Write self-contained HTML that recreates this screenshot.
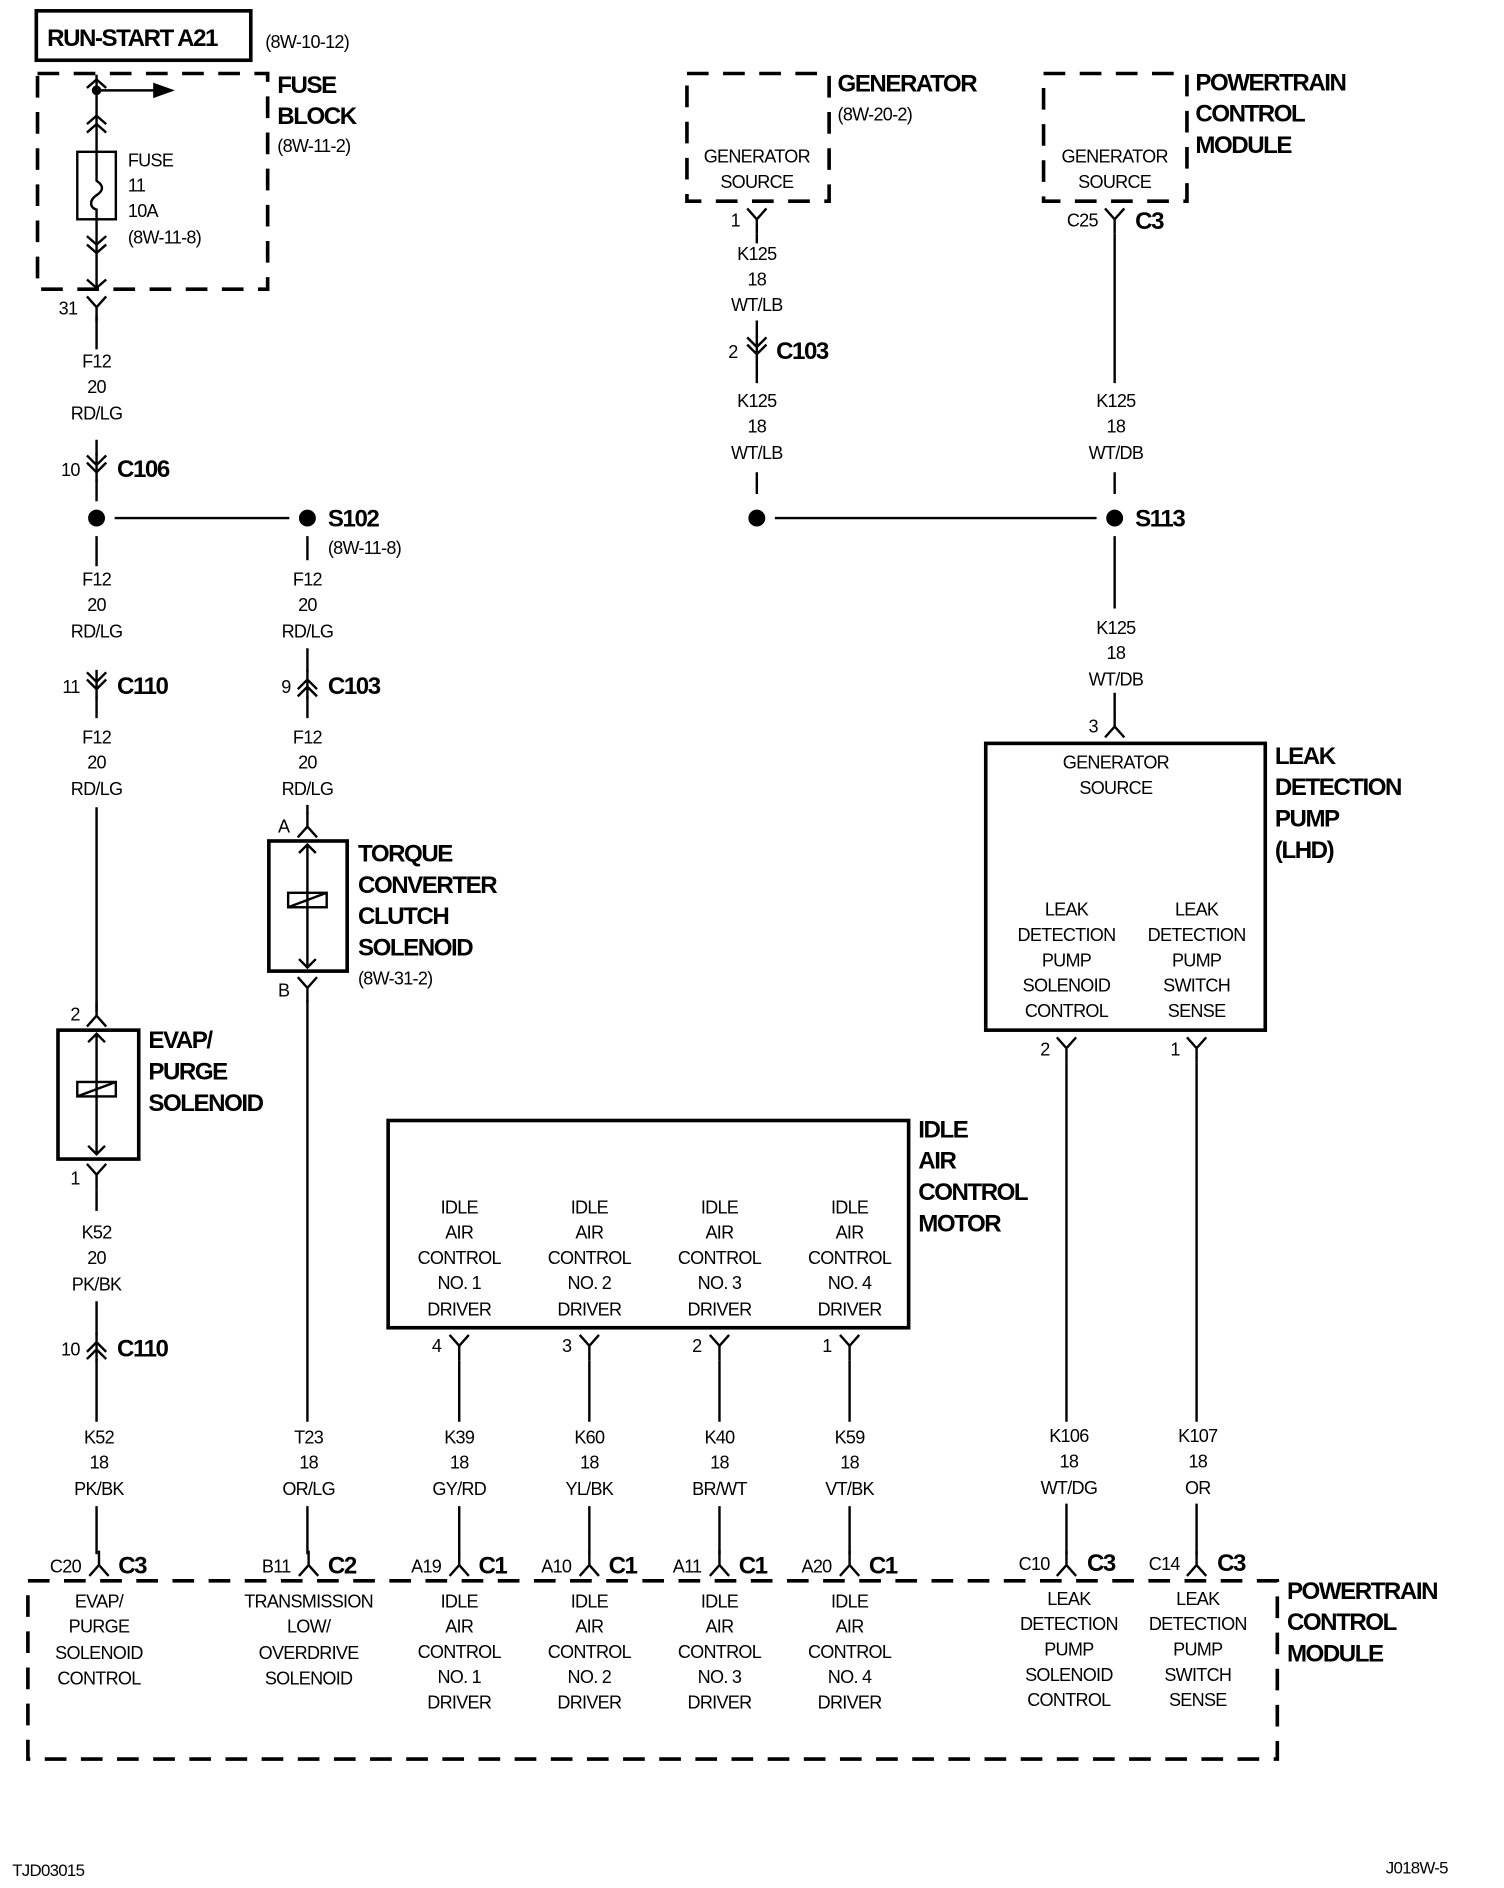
<!DOCTYPE html>
<html><head><meta charset="utf-8"><style>
html,body{margin:0;padding:0;background:#fff}
svg{display:block}
text{font-family:"Liberation Sans",sans-serif;font-size:15px;fill:#000;letter-spacing:-0.6px}
.c{text-anchor:middle}
.b{font-weight:bold;font-size:20px;letter-spacing:-1.2px}
.r{text-anchor:end}
</style></head><body>
<svg width="1504" height="1888" viewBox="0 0 1248 1567" xmlns="http://www.w3.org/2000/svg">
<defs>
<path id="fy" d="M-8,-9 L0,0 L8,-9 M0,0 V12" fill="none" stroke="#000" stroke-width="2"/>
<path id="mu" d="M-8,9 L0,0 L8,9 M0,0 V-12" fill="none" stroke="#000" stroke-width="2"/>
<path id="dd" d="M-8,-10 L0,-2 L8,-10 M-8,-4 L0,4 L8,-4 M0,-12 V12" fill="none" stroke="#000" stroke-width="2"/>
<path id="du" d="M-8,10 L0,2 L8,10 M-8,4 L0,-4 L8,4 M0,-12 V12" fill="none" stroke="#000" stroke-width="2"/>
</defs>
<g fill="none" stroke="#000" stroke-width="2">
<rect x="30" y="9" width="178" height="41" stroke-width="3"/>
<rect x="31" y="61" width="191" height="179" stroke-width="3" stroke-dasharray="18,12"/>
<rect x="570" y="61" width="118" height="106" stroke-width="3" stroke-dasharray="18,12"/>
<rect x="866" y="61" width="119" height="106" stroke-width="3" stroke-dasharray="18,12"/>
<rect x="23" y="1312" width="1037" height="148" stroke-width="3" stroke-dasharray="18,12"/>
<rect x="818" y="617" width="232" height="238" stroke-width="3"/>
<rect x="322" y="930" width="432" height="172" stroke-width="3"/>
<rect x="48" y="855" width="67" height="107" stroke-width="3"/>
<rect x="223" y="698" width="65" height="108" stroke-width="3"/>
<path d="M80,62 V126 M80,182 V240 M80,75 H130"/>
<path d="M128,70 L142,75 L128,80 Z" fill="#000"/>
<circle cx="80" cy="75" r="3" fill="#000"/>
<path d="M72,73 L80,66 L88,73 M72,103 L80,96 L88,103 M72,110 L80,103 L88,110 M72,196 L80,203 L88,196 M72,203 L80,210 L88,203 M72,232 L80,239 L88,232"/>
<rect x="64" y="126" width="32" height="56"/>
<path d="M80,126 V150 C86,154 86,158 80,162 C74,166 74,172 80,174 V182"/>
<use href="#fy" x="80" y="255"/>
<path d="M80,262 V290 M80,365 V378 M80,398 V416 M80,445 V470 M80,578 V596 M80,670 V840"/>
<use href="#dd" x="80" y="388"/>
<use href="#dd" x="80" y="568"/>
<circle cx="80" cy="430" r="6" fill="#000"/>
<path d="M95,430 H240"/>
<circle cx="255" cy="430" r="6" fill="#000"/>
<use href="#mu" x="80" y="843"/>
<path d="M80,858 V958 M73,865 L80,858 L87,865 M73,951 L80,958 L87,951"/>
<rect x="64" y="898" width="32" height="12"/>
<path d="M64,910 L96,898"/>
<use href="#fy" x="80" y="975"/>
<path d="M80,987 V1005 M80,1080 V1108 M80,1128 V1180 M80,1250 V1290"/>
<use href="#du" x="80" y="1118"/>
<path d="M255,445 V465 M255,538 V558 M255,578 V596 M255,668 V676 M255,830 V1180 M255,1250 V1290"/>
<use href="#du" x="255" y="568"/>
<use href="#mu" x="255" y="686"/>
<path d="M255,701 V803 M248,708 L255,701 L262,708 M248,796 L255,803 L262,796"/>
<rect x="239" y="741" width="32" height="12"/>
<path d="M239,753 L271,741"/>
<use href="#fy" x="255" y="820"/>
<use href="#fy" x="628" y="182"/>
<path d="M628,194 V202 M628,266 V280 M628,300 V318 M628,392 V410"/>
<use href="#dd" x="628" y="290"/>
<circle cx="628" cy="430" r="6" fill="#000"/>
<path d="M643,430 H910"/>
<circle cx="925" cy="430" r="6" fill="#000"/>
<use href="#fy" x="925" y="182"/>
<path d="M925,194 V318 M925,392 V410 M925,445 V505 M925,575 V592"/>
<use href="#mu" x="925" y="603"/>
<use href="#fy" x="885" y="870"/>
<use href="#fy" x="993" y="870"/>
<path d="M885,882 V1180 M993,882 V1180 M885,1248 V1290 M993,1248 V1290"/>
<use href="#fy" x="381" y="1117"/><use href="#fy" x="489" y="1117"/><use href="#fy" x="597" y="1117"/><use href="#fy" x="705" y="1117"/>
<path d="M381,1129 V1180 M489,1129 V1180 M597,1129 V1180 M705,1129 V1180 M381,1250 V1290 M489,1250 V1290 M597,1250 V1290 M705,1250 V1290"/>
<use href="#mu" x="82" y="1299"/><use href="#mu" x="256" y="1299"/><use href="#mu" x="381" y="1299"/><use href="#mu" x="489" y="1299"/>
<use href="#mu" x="597" y="1299"/><use href="#mu" x="705" y="1299"/><use href="#mu" x="885" y="1299"/><use href="#mu" x="993" y="1299"/>
</g>
<text x="39" y="38" class="b">RUN-START A21</text>
<text x="220" y="40">(8W-10-12)</text>
<text x="230" y="77" class="b">FUSE</text><text x="230" y="103" class="b">BLOCK</text><text x="230" y="126">(8W-11-2)</text>
<text x="106" y="138">FUSE</text><text x="106" y="159">11</text><text x="106" y="180">10A</text><text x="106" y="202">(8W-11-8)</text>
<text x="64" y="261" class="r">31</text>
<g>
<text x="80" y="305" class="c">F12</text><text x="80" y="326" class="c">20</text><text x="80" y="348" class="c">RD/LG</text>
<text x="80" y="486" class="c">F12</text><text x="80" y="507" class="c">20</text><text x="80" y="529" class="c">RD/LG</text>
<text x="80" y="617" class="c">F12</text><text x="80" y="638" class="c">20</text><text x="80" y="660" class="c">RD/LG</text>
<text x="255" y="486" class="c">F12</text><text x="255" y="507" class="c">20</text><text x="255" y="529" class="c">RD/LG</text>
<text x="255" y="617" class="c">F12</text><text x="255" y="638" class="c">20</text><text x="255" y="660" class="c">RD/LG</text>
<text x="80" y="1028" class="c">K52</text><text x="80" y="1049" class="c">20</text><text x="80" y="1071" class="c">PK/BK</text>
<text x="82" y="1198" class="c">K52</text><text x="82" y="1219" class="c">18</text><text x="82" y="1241" class="c">PK/BK</text>
<text x="256" y="1198" class="c">T23</text><text x="256" y="1219" class="c">18</text><text x="256" y="1241" class="c">OR/LG</text>
<text x="381" y="1198" class="c">K39</text><text x="381" y="1219" class="c">18</text><text x="381" y="1241" class="c">GY/RD</text>
<text x="489" y="1198" class="c">K60</text><text x="489" y="1219" class="c">18</text><text x="489" y="1241" class="c">YL/BK</text>
<text x="597" y="1198" class="c">K40</text><text x="597" y="1219" class="c">18</text><text x="597" y="1241" class="c">BR/WT</text>
<text x="705" y="1198" class="c">K59</text><text x="705" y="1219" class="c">18</text><text x="705" y="1241" class="c">VT/BK</text>
<text x="887" y="1197" class="c">K106</text><text x="887" y="1218" class="c">18</text><text x="887" y="1240" class="c">WT/DG</text>
<text x="994" y="1197" class="c">K107</text><text x="994" y="1218" class="c">18</text><text x="994" y="1240" class="c">OR</text>
<text x="628" y="216" class="c">K125</text><text x="628" y="237" class="c">18</text><text x="628" y="258" class="c">WT/LB</text>
<text x="628" y="338" class="c">K125</text><text x="628" y="359" class="c">18</text><text x="628" y="381" class="c">WT/LB</text>
<text x="926" y="338" class="c">K125</text><text x="926" y="359" class="c">18</text><text x="926" y="381" class="c">WT/DB</text>
<text x="926" y="526" class="c">K125</text><text x="926" y="547" class="c">18</text><text x="926" y="569" class="c">WT/DB</text>
<text x="628" y="135" class="c">GENERATOR</text><text x="628" y="156" class="c">SOURCE</text>
<text x="925" y="135" class="c">GENERATOR</text><text x="925" y="156" class="c">SOURCE</text>
<text x="926" y="638" class="c">GENERATOR</text><text x="926" y="659" class="c">SOURCE</text>
<text x="885" y="760" class="c">LEAK</text><text x="885" y="781" class="c">DETECTION</text><text x="885" y="802" class="c">PUMP</text><text x="885" y="823" class="c">SOLENOID</text><text x="885" y="844" class="c">CONTROL</text>
<text x="993" y="760" class="c">LEAK</text><text x="993" y="781" class="c">DETECTION</text><text x="993" y="802" class="c">PUMP</text><text x="993" y="823" class="c">SWITCH</text><text x="993" y="844" class="c">SENSE</text>
<text x="381" y="1007" class="c">IDLE</text><text x="381" y="1028" class="c">AIR</text><text x="381" y="1049" class="c">CONTROL</text><text x="381" y="1070" class="c">NO. 1</text><text x="381" y="1092" class="c">DRIVER</text>
<text x="489" y="1007" class="c">IDLE</text><text x="489" y="1028" class="c">AIR</text><text x="489" y="1049" class="c">CONTROL</text><text x="489" y="1070" class="c">NO. 2</text><text x="489" y="1092" class="c">DRIVER</text>
<text x="597" y="1007" class="c">IDLE</text><text x="597" y="1028" class="c">AIR</text><text x="597" y="1049" class="c">CONTROL</text><text x="597" y="1070" class="c">NO. 3</text><text x="597" y="1092" class="c">DRIVER</text>
<text x="705" y="1007" class="c">IDLE</text><text x="705" y="1028" class="c">AIR</text><text x="705" y="1049" class="c">CONTROL</text><text x="705" y="1070" class="c">NO. 4</text><text x="705" y="1092" class="c">DRIVER</text>
<text x="82" y="1334" class="c">EVAP/</text><text x="82" y="1355" class="c">PURGE</text><text x="82" y="1377" class="c">SOLENOID</text><text x="82" y="1398" class="c">CONTROL</text>
<text x="256" y="1334" class="c">TRANSMISSION</text><text x="256" y="1355" class="c">LOW/</text><text x="256" y="1377" class="c">OVERDRIVE</text><text x="256" y="1398" class="c">SOLENOID</text>
<text x="381" y="1334" class="c">IDLE</text><text x="381" y="1355" class="c">AIR</text><text x="381" y="1376" class="c">CONTROL</text><text x="381" y="1397" class="c">NO. 1</text><text x="381" y="1418" class="c">DRIVER</text>
<text x="489" y="1334" class="c">IDLE</text><text x="489" y="1355" class="c">AIR</text><text x="489" y="1376" class="c">CONTROL</text><text x="489" y="1397" class="c">NO. 2</text><text x="489" y="1418" class="c">DRIVER</text>
<text x="597" y="1334" class="c">IDLE</text><text x="597" y="1355" class="c">AIR</text><text x="597" y="1376" class="c">CONTROL</text><text x="597" y="1397" class="c">NO. 3</text><text x="597" y="1418" class="c">DRIVER</text>
<text x="705" y="1334" class="c">IDLE</text><text x="705" y="1355" class="c">AIR</text><text x="705" y="1376" class="c">CONTROL</text><text x="705" y="1397" class="c">NO. 4</text><text x="705" y="1418" class="c">DRIVER</text>
<text x="887" y="1332" class="c">LEAK</text><text x="887" y="1353" class="c">DETECTION</text><text x="887" y="1374" class="c">PUMP</text><text x="887" y="1395" class="c">SOLENOID</text><text x="887" y="1416" class="c">CONTROL</text>
<text x="994" y="1332" class="c">LEAK</text><text x="994" y="1353" class="c">DETECTION</text><text x="994" y="1374" class="c">PUMP</text><text x="994" y="1395" class="c">SWITCH</text><text x="994" y="1416" class="c">SENSE</text>
</g>
<text x="66" y="395" class="r">10</text><text x="97" y="396" class="b">C106</text>
<text x="272" y="437" class="b">S102</text><text x="272" y="460">(8W-11-8)</text>
<text x="66" y="575" class="r">11</text><text x="97" y="576" class="b">C110</text>
<text x="241" y="575" class="r">9</text><text x="272" y="576" class="b">C103</text>
<text x="66" y="847" class="r">2</text>
<text x="123" y="870" class="b">EVAP/</text><text x="123" y="896" class="b">PURGE</text><text x="123" y="922" class="b">SOLENOID</text>
<text x="66" y="983" class="r">1</text>
<text x="66" y="1125" class="r">10</text><text x="97" y="1126" class="b">C110</text>
<text x="240" y="691" class="r">A</text><text x="240" y="827" class="r">B</text>
<text x="297" y="715" class="b">TORQUE</text><text x="297" y="741" class="b">CONVERTER</text><text x="297" y="767" class="b">CLUTCH</text><text x="297" y="793" class="b">SOLENOID</text>
<text x="297" y="817">(8W-31-2)</text>
<text x="695" y="76" class="b">GENERATOR</text><text x="695" y="100">(8W-20-2)</text>
<text x="992" y="75" class="b">POWERTRAIN</text><text x="992" y="101" class="b">CONTROL</text><text x="992" y="127" class="b">MODULE</text>
<text x="614" y="188" class="r">1</text>
<text x="911" y="188" class="r">C25</text><text x="942" y="190" class="b">C3</text>
<text x="612" y="297" class="r">2</text><text x="644" y="298" class="b">C103</text>
<text x="942" y="437" class="b">S113</text>
<text x="911" y="608" class="r">3</text>
<text x="1058" y="634" class="b">LEAK</text><text x="1058" y="660" class="b">DETECTION</text><text x="1058" y="686" class="b">PUMP</text><text x="1058" y="712" class="b">(LHD)</text>
<text x="871" y="876" class="r">2</text><text x="979" y="876" class="r">1</text>
<text x="762" y="944" class="b">IDLE</text><text x="762" y="970" class="b">AIR</text><text x="762" y="996" class="b">CONTROL</text><text x="762" y="1022" class="b">MOTOR</text>
<text x="366" y="1122" class="r">4</text><text x="474" y="1122" class="r">3</text><text x="582" y="1122" class="r">2</text><text x="690" y="1122" class="r">1</text>
<text x="67" y="1305" class="r">C20</text><text x="98" y="1306" class="b">C3</text>
<text x="241" y="1305" class="r">B11</text><text x="272" y="1306" class="b">C2</text>
<text x="366" y="1305" class="r">A19</text><text x="397" y="1306" class="b">C1</text>
<text x="474" y="1305" class="r">A10</text><text x="505" y="1306" class="b">C1</text>
<text x="582" y="1305" class="r">A11</text><text x="613" y="1306" class="b">C1</text>
<text x="690" y="1305" class="r">A20</text><text x="721" y="1306" class="b">C1</text>
<text x="871" y="1303" class="r">C10</text><text x="902" y="1304" class="b">C3</text>
<text x="979" y="1303" class="r">C14</text><text x="1010" y="1304" class="b">C3</text>
<text x="1068" y="1327" class="b">POWERTRAIN</text><text x="1068" y="1353" class="b">CONTROL</text><text x="1068" y="1379" class="b">MODULE</text>
<text x="10" y="1557" style="font-size:14px">TJD03015</text>
<text x="1150" y="1555" style="font-size:14px">J018W-5</text>
</svg>
</body></html>
